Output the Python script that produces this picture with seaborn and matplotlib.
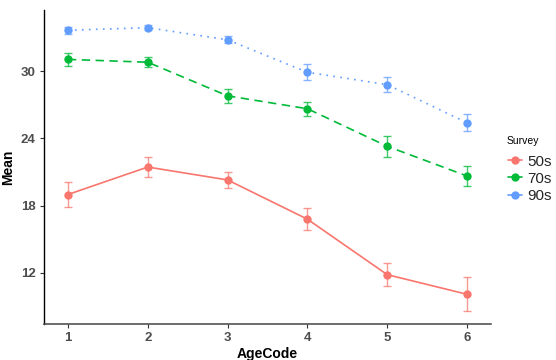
import matplotlib
matplotlib.use("Agg")
import matplotlib.pyplot as plt
from matplotlib.lines import Line2D
import seaborn as sns
import pandas as pd

age_codes = [1, 2, 3, 4, 5, 6]
surveys = ["50s", "70s", "90s"]
mean_50s = [19.0, 21.45, 20.3, 16.8, 11.85, 10.1]
err_50s = [1.15, 0.92, 0.7, 0.98, 1.0, 1.5]
mean_70s = [31.05, 30.8, 27.8, 26.65, 23.3, 20.65]
err_70s = [0.6, 0.43, 0.62, 0.62, 0.92, 0.9]
mean_90s = [33.65, 33.88, 32.8, 29.9, 28.8, 25.4]
err_90s = [0.3, 0.25, 0.3, 0.7, 0.65, 0.75]

colors = {"50s": "#F8766D", "70s": "#00BA38", "90s": "#619CFF"}
dashes = {"50s": "", "70s": (5.0, 3.3), "90s": (1.0, 3.2)}

rows = []
for s, m, e in zip(surveys, [mean_50s, mean_70s, mean_90s], [err_50s, err_70s, err_90s]):
    for a, mv, ev in zip(age_codes, m, e):
        rows.append({"AgeCode": a, "Mean": mv, "Err": ev, "Survey": s})
df = pd.DataFrame(rows)

sns.set_theme(style="white")
plt.rcParams["font.family"] = ["Liberation Sans", "DejaVu Sans"]

fig = plt.figure(figsize=(5.56, 3.6), dpi=100)
ax = fig.add_axes([0.0791, 0.1, 0.804, 0.872])

sns.lineplot(data=df, x="AgeCode", y="Mean", hue="Survey", style="Survey",
             palette=colors, dashes=dashes, markers={"50s": "o", "70s": "o", "90s": "o"},
             markersize=6, markeredgewidth=0, linewidth=1.2, ax=ax, legend=False)

for s in surveys:
    d = df[df["Survey"] == s]
    ax.errorbar(d["AgeCode"], d["Mean"], yerr=d["Err"], fmt="none",
                ecolor=colors[s], elinewidth=1.0, capsize=3, capthick=1.0, alpha=0.75)

ax.set_xlim(0.7, 6.3)
ax.set_ylim(7.45, 35.45)
ax.set_xticks(age_codes)
ax.set_yticks([12, 18, 24, 30])
for sp in ["top", "right"]:
    ax.spines[sp].set_visible(False)
ax.spines["left"].set_color("black")
ax.spines["left"].set_linewidth(1.0)
ax.spines["bottom"].set_color("#444444")
ax.spines["bottom"].set_linewidth(1.1)
ax.tick_params(axis="both", which="both", length=3, width=0.8, color="#333333",
               labelsize=9.5, labelcolor="#4D4D4D", bottom=True, left=True, pad=3)
for lbl in ax.get_xticklabels() + ax.get_yticklabels():
    lbl.set_fontweight("bold")
ax.set_xlabel("AgeCode", fontsize=10, fontweight="bold", color="black", labelpad=2)
ax.set_ylabel("Mean", fontsize=10, fontweight="bold", color="black", labelpad=4)

handles = [Line2D([0], [0], color=colors[s], lw=1.2, marker="o", markersize=6,
                  markeredgewidth=0) for s in surveys]
fig.text(507 / 556, 1 - 141 / 360, "Survey", fontsize=7.5, color="black",
         ha="left", va="center")
leg = fig.legend(handles, surveys, loc="upper left",
                 bbox_to_anchor=(0.903, 0.587), frameon=False, fontsize=11,
                 handlelength=0.9, handletextpad=0.35,
                 labelspacing=0.2, borderaxespad=0)

fig.savefig("out.png", dpi=100)
